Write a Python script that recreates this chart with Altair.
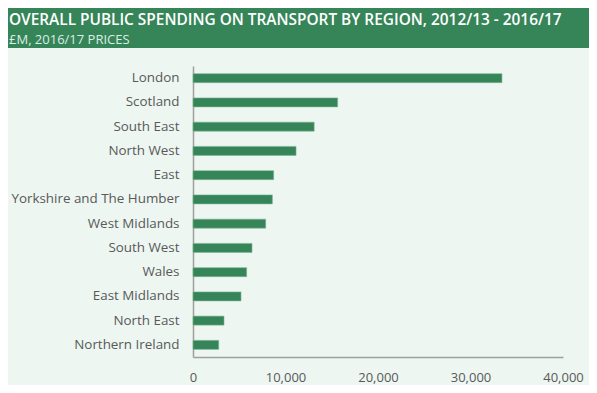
import altair as alt
import pandas as pd

regions = ["London", "Scotland", "South East", "North West", "East",
           "Yorkshire and The Humber", "West Midlands", "South West", "Wales",
           "East Midlands", "North East", "Northern Ireland"]
spending = [33400, 15640, 13100, 11140, 8720, 8580, 7860, 6380, 5800, 5190, 3350, 2780]
x_ticks = [0, 10000, 20000, 30000, 40000]

title_text = "OVERALL PUBLIC SPENDING ON TRANSPORT BY REGION, 2012/13 - 2016/17"
subtitle_text = "£M, 2016/17 PRICES"

GREEN = "#368559"
BG = "#EDF6F1"
W, H = 370, 291
PAD_L, PAD_T, PAD_R, PAD_B = 185, 58, 26, 28

df = pd.DataFrame({"region": regions, "value": spending})

bars = alt.Chart(df).mark_bar(color=GREEN, size=9, stroke="#7DB596", strokeWidth=0.6).encode(
    x=alt.X("value:Q",
            scale=alt.Scale(domain=[0, 40000], nice=False),
            axis=alt.Axis(values=x_ticks, format=",.0f", title=None, grid=False, ticks=False,
                          domainColor="#A0A0A0", domainWidth=1.5,
                          labelColor="#595959", labelFontSize=13, labelPadding=14,
                          labelFont="Open Sans", labelFlush=False)),
    y=alt.Y("region:N", sort=regions,
            scale=alt.Scale(paddingInner=0, paddingOuter=0),
            axis=alt.Axis(title=None, ticks=False, domainColor="#A0A0A0", domainWidth=1.5,
                          labelColor="#595959", labelFontSize=13.4, labelPadding=14,
                          labelFont="Open Sans", labelLimit=300)),
)

header_df = pd.DataFrame({"t": [title_text], "s": [subtitle_text]})

header_rect = alt.Chart(header_df).mark_rect(color=GREEN, clip=False).encode(
    x=alt.value(-PAD_L), x2=alt.value(W + PAD_R),
    y=alt.value(-PAD_T), y2=alt.value(40 - PAD_T),
)

title_mark = alt.Chart(header_df).mark_text(
    align="left", baseline="alphabetic", color="white", font="Open Sans",
    fontWeight=600, fontSize=15.4, clip=False
).encode(x=alt.value(-PAD_L + 1), y=alt.value(16.5 - PAD_T), text="t:N")

subtitle_mark = alt.Chart(header_df).mark_text(
    align="left", baseline="alphabetic", color="#DCEDE3", font="Open Sans",
    fontSize=13, clip=False
).encode(x=alt.value(-PAD_L + 1), y=alt.value(35.5 - PAD_T), text="s:N")

chart = alt.layer(header_rect, bars, title_mark, subtitle_mark).properties(
    width=W, height=H,
    autosize=alt.AutoSizeParams(type="none"),
    padding={"left": PAD_L, "top": PAD_T, "right": PAD_R, "bottom": PAD_B},
    background=BG,
).configure_view(stroke=None)

chart.save("out.html", embed_options={"renderer": "svg", "actions": False})
